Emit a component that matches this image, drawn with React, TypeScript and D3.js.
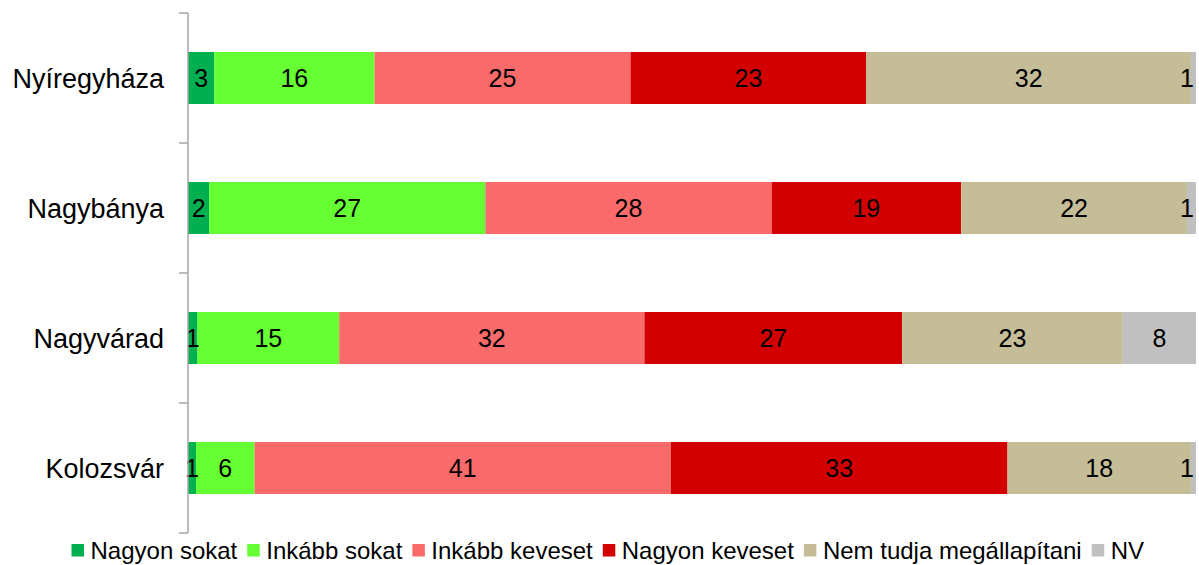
import React, { useMemo } from "react";
import * as d3 from "d3";

const categories = ["Nyíregyháza", "Nagybánya", "Nagyvárad", "Kolozsvár"];
const seriesNames = ["Nagyon sokat", "Inkább sokat", "Inkább keveset", "Nagyon keveset", "Nem tudja megállapítani", "NV"];
const seriesColors = ["#00B050", "#66FF33", "#F96B6B", "#D20000", "#C4BD97", "#C0C0C0"];
const nagyonSokat = [2.6, 2.1, 1.0, 0.8];
const inkabbSokat = [15.9, 27.4, 14.9, 5.8];
const inkabbKeveset = [25.4, 28.4, 32.1, 41.3];
const nagyonKeveset = [23.4, 18.8, 27.1, 33.4];
const nemTudja = [32.2, 22.4, 23.2, 18.2];
const nv = [0.5, 0.9, 7.7, 0.5];

const W = 1199;
const H = 565;
const FONT = "'Liberation Sans', Arial, sans-serif";

function measure(text: string, size: number): number {
  if (typeof document === "undefined") return text.length * size * 0.55;
  const c = document.createElement("canvas");
  const ctx = c.getContext("2d");
  if (!ctx) return text.length * size * 0.55;
  ctx.font = `${size}px 'Liberation Sans', Arial, sans-serif`;
  return ctx.measureText(text).width;
}

export default function App() {
  const allSeries = [nagyonSokat, inkabbSokat, inkabbKeveset, nagyonKeveset, nemTudja, nv];
  const rows = categories.map((c, i) => {
    const r: any = { cat: c };
    seriesNames.forEach((s, j) => (r[s] = allSeries[j][i]));
    return r;
  });
  const stacked = d3.stack<any>().keys(seriesNames).offset(d3.stackOffsetExpand)(rows);

  const axisX = 188;
  const x = d3.scaleLinear().domain([0, 1]).range([axisX, 1196]);
  const y = d3.scaleBand<string>().domain(categories).range([13, 533]).paddingInner(0.6).paddingOuter(0.3);
  const step = y.step();
  const tickYs = d3.range(categories.length + 1).map((i) => 13 + i * step);

  const legendSize = 24;
  const sq = 12.5;
  const legendItems = useMemo(() => {
    let cx = 71.5;
    return seriesNames.map((s, i) => {
      const w = measure(s, legendSize);
      const item = { s, color: seriesColors[i], x: cx, w };
      cx += sq + 6.5 + w + 10;
      return item;
    });
  }, []);

  return (
    <svg width={W} height={H} style={{ display: "block", position: "absolute", left: 0, top: 0 }} fontFamily={FONT}>
      <rect width={W} height={H} fill="#fff" />
      {stacked.map((layer, j) => (
        <g key={layer.key} fill={seriesColors[j]}>
          {layer.map((d, i) => (
            <rect
              key={i}
              x={x(d[0])}
              y={y(categories[i])}
              width={Math.max(0, x(d[1]) - x(d[0]))}
              height={y.bandwidth()}
            />
          ))}
        </g>
      ))}
      {stacked.map((layer, j) => (
        <g key={"l" + layer.key}>
          {layer.map((d, i) => {
            const label = String(Math.round(allSeries[j][i]));
            const half = measure(label, 25) / 2;
            const cx = Math.min((x(d[0]) + x(d[1])) / 2, 1194 - half);
            return (
              <text
                key={i}
                x={cx}
                y={(y(categories[i]) as number) + y.bandwidth() / 2 + 9}
                textAnchor="middle"
                fontSize={25}
                fill="#000"
              >
                {label}
              </text>
            );
          })}
        </g>
      ))}
      <g stroke="#A6A6A6" strokeWidth={1.5}>
        <line x1={axisX} x2={axisX} y1={13} y2={533} />
        {tickYs.map((t, i) => (
          <line key={i} x1={axisX - 9} x2={axisX} y1={t} y2={t} />
        ))}
      </g>
      {categories.map((c) => (
        <text
          key={c}
          x={164}
          y={(y(c) as number) + y.bandwidth() / 2 + 9.5}
          textAnchor="end"
          fontSize={27}
          fill="#000"
        >
          {c}
        </text>
      ))}
      {legendItems.map((it) => (
        <g key={it.s}>
          <rect x={it.x} y={544} width={sq} height={sq} fill={it.color} />
          <text x={it.x + sq + 6.5} y={558.5} fontSize={legendSize} fill="#000">
            {it.s}
          </text>
        </g>
      ))}
    </svg>
  );
}
